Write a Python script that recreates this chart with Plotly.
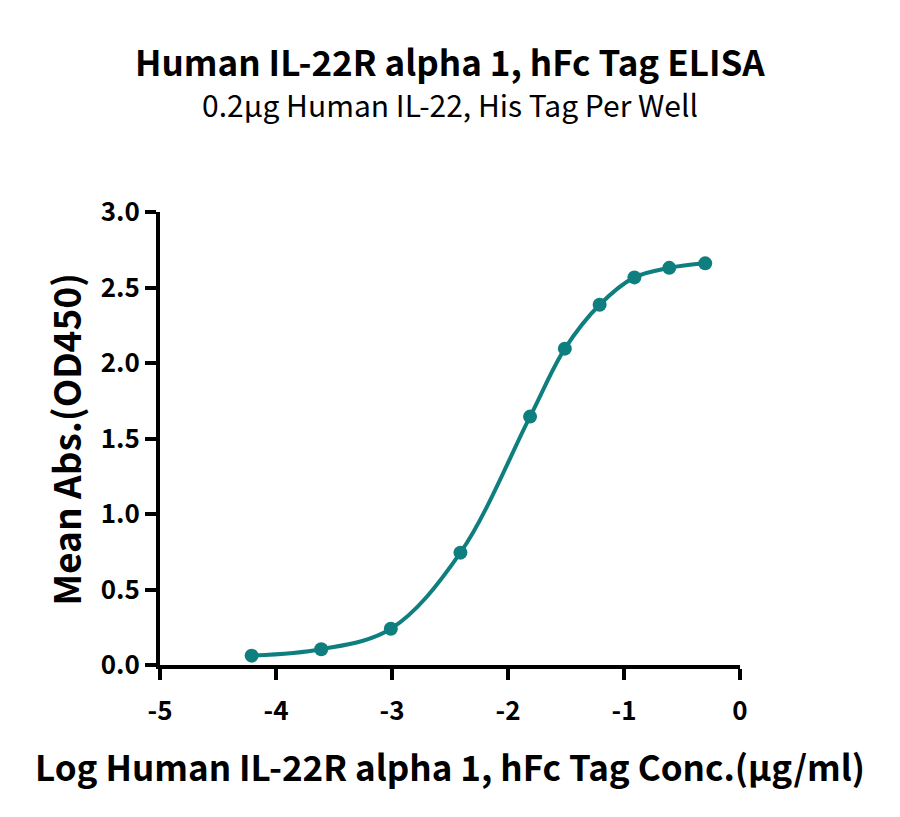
import plotly.graph_objects as go

# log concentration (ug/ml) and mean OD450
log_conc = [-4.21, -3.61, -3.01, -2.41, -1.81, -1.51, -1.21, -0.91, -0.61, -0.30]
mean_abs = [0.062, 0.104, 0.24, 0.744, 1.645, 2.095, 2.386, 2.567, 2.63, 2.66]

x_ticks = [-5, -4, -3, -2, -1, 0]
x_ticklabels = ['-5', '-4', '-3', '-2', '-1', '0']
y_ticks = [0, 0.5, 1.0, 1.5, 2.0, 2.5, 3.0]
y_ticklabels = ['0.0', '0.5', '1.0', '1.5', '2.0', '2.5', '3.0']

teal = '#0E7F7E'
font = 'Noto Sans CJK SC'

fig = go.Figure()
fig.add_trace(go.Scatter(x=log_conc, y=mean_abs, mode='lines+markers',
                         line=dict(color=teal, width=4, shape='spline', smoothing=1.0),
                         marker=dict(color=teal, size=14),
                         showlegend=False, cliponaxis=False))

# page body adds 8px offset, so margins are shifted to compensate
fig.update_layout(
    width=900, height=817,
    paper_bgcolor='white', plot_bgcolor='white',
    margin=dict(l=152, r=168, t=204, b=160),
    font=dict(family=font, color='black'),
    showlegend=False,
)

fig.add_annotation(text='<b>Human IL-22R alpha 1, hFc Tag ELISA</b>',
                   xref='paper', yref='paper', x=0.5, y=1.3355,
                   xanchor='center', yanchor='middle', showarrow=False,
                   font=dict(family=font, size=35, color='black'))
fig.add_annotation(text='0.2µg Human IL-22, His Tag Per Well',
                   xref='paper', yref='paper', x=0.5, y=1.238,
                   xanchor='center', yanchor='middle', showarrow=False,
                   font=dict(family=font, size=30, color='black'))
fig.add_annotation(text='<b>Log Human IL-22R alpha 1, hFc Tag Conc.(µg/ml)</b>',
                   xref='paper', yref='paper', x=0.5, y=-0.2208,
                   xanchor='center', yanchor='middle', showarrow=False,
                   font=dict(family=font, size=35, color='black'))
fig.add_annotation(text='<b>Mean Abs.(OD450)</b>', textangle=-90,
                   xref='paper', yref='paper', x=-0.1638, y=0.5,
                   xanchor='center', yanchor='middle', showarrow=False,
                   font=dict(family=font, size=37, color='black'))

fig.update_xaxes(range=[-5, 0], tickvals=x_ticks, ticktext=x_ticklabels,
                 showgrid=False, zeroline=False,
                 showline=True, linecolor='black', linewidth=4,
                 ticks='outside', ticklen=11, tickwidth=4, tickcolor='black',
                 ticklabelstandoff=9,
                 tickfont=dict(family=font, size=26, color='black', weight='bold'))
fig.update_yaxes(range=[0, 3], tickvals=y_ticks, ticktext=y_ticklabels,
                 showgrid=False, zeroline=False,
                 showline=True, linecolor='black', linewidth=4,
                 ticks='outside', ticklen=11, tickwidth=4, tickcolor='black',
                 tickfont=dict(family=font, size=26, color='black', weight='bold'))

fig.write_html("out.html")
